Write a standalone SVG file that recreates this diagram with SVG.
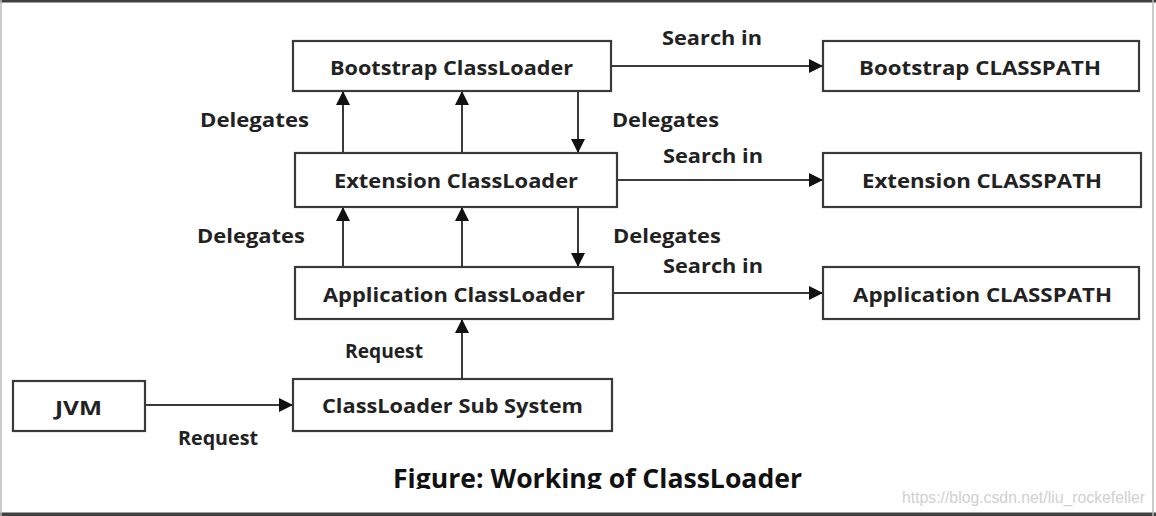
<svg xmlns="http://www.w3.org/2000/svg" width="1156" height="516" viewBox="0 0 1156 516">
<style>
.box{fill:#fff;stroke:#3a3a3a;stroke-width:2.2}
.t{font-family:"Open Sans","Noto Sans","Liberation Sans",sans-serif;font-weight:bold;font-size:19px;fill:#222}
.lbl{font-family:"Open Sans","Noto Sans","Liberation Sans",sans-serif;font-weight:bold;font-size:19px;fill:#222}
.ln{stroke:#3a3a3a;stroke-width:2;fill:none}
</style>
<defs>
<marker id="ah" viewBox="0 0 14 14" refX="14" refY="7" markerWidth="14" markerHeight="14" markerUnits="userSpaceOnUse" orient="auto">
<path d="M0,0 L14,7 L0,14 Z" fill="#111"/>
</marker>
<clipPath id="capclip"><rect x="0" y="440" width="1156" height="49"/></clipPath>
</defs>
<rect x="0" y="0" width="1156" height="516" fill="#fff"/>
<rect x="0" y="0" width="1156" height="2.5" fill="#404040"/>
<rect x="0" y="512.5" width="1156" height="3.5" fill="#404040"/>
<line x1="1" y1="0" x2="1" y2="516" stroke="#bbb" stroke-width="1.5"/>
<line x1="1153" y1="0" x2="1153" y2="516" stroke="#bbb" stroke-width="1.5"/>

<g id="connectors">
<line class="ln" x1="611" y1="66" x2="823" y2="66" marker-end="url(#ah)"/>
<line class="ln" x1="617" y1="180" x2="823" y2="180" marker-end="url(#ah)"/>
<line class="ln" x1="613" y1="293" x2="823" y2="293" marker-end="url(#ah)"/>
<line class="ln" x1="343" y1="153" x2="343" y2="91" marker-end="url(#ah)"/>
<line class="ln" x1="462" y1="153" x2="462" y2="91" marker-end="url(#ah)"/>
<line class="ln" x1="578" y1="91" x2="578" y2="153" marker-end="url(#ah)"/>
<line class="ln" x1="343" y1="267" x2="343" y2="207" marker-end="url(#ah)"/>
<line class="ln" x1="462" y1="267" x2="462" y2="207" marker-end="url(#ah)"/>
<line class="ln" x1="578" y1="207" x2="578" y2="267" marker-end="url(#ah)"/>
<line class="ln" x1="462" y1="379" x2="462" y2="319" marker-end="url(#ah)"/>
<line class="ln" x1="145" y1="405" x2="293" y2="405" marker-end="url(#ah)"/>
<text class="lbl" x="662" y="45" textLength="100" lengthAdjust="spacingAndGlyphs">Search in</text>
<text class="lbl" x="663" y="163" textLength="100" lengthAdjust="spacingAndGlyphs">Search in</text>
<text class="lbl" x="663" y="273" textLength="100" lengthAdjust="spacingAndGlyphs">Search in</text>
<text class="lbl" x="200" y="127" textLength="109" lengthAdjust="spacingAndGlyphs">Delegates</text>
<text class="lbl" x="612" y="127" textLength="107" lengthAdjust="spacingAndGlyphs">Delegates</text>
<text class="lbl" x="197" y="243" textLength="108" lengthAdjust="spacingAndGlyphs">Delegates</text>
<text class="lbl" x="613" y="243" textLength="108" lengthAdjust="spacingAndGlyphs">Delegates</text>
<text class="lbl" x="345" y="358" textLength="78" lengthAdjust="spacingAndGlyphs">Request</text>
<text class="lbl" x="178" y="445" textLength="80" lengthAdjust="spacingAndGlyphs">Request</text>
</g>

<g id="bootstrap-loader">
<rect class="box" x="293" y="41" width="318" height="50"/>
<text class="t" x="330" y="75" textLength="243" lengthAdjust="spacingAndGlyphs">Bootstrap ClassLoader</text>
</g>
<g id="bootstrap-classpath">
<rect class="box" x="823" y="41" width="316" height="50"/>
<text class="t" x="859" y="75" textLength="242" lengthAdjust="spacingAndGlyphs">Bootstrap CLASSPATH</text>
</g>
<g id="extension-loader">
<rect class="box" x="295" y="153" width="322" height="54"/>
<text class="t" x="334" y="188" textLength="244" lengthAdjust="spacingAndGlyphs">Extension ClassLoader</text>
</g>
<g id="extension-classpath">
<rect class="box" x="823" y="153" width="318" height="54"/>
<text class="t" x="862" y="188" textLength="240" lengthAdjust="spacingAndGlyphs">Extension CLASSPATH</text>
</g>
<g id="application-loader">
<rect class="box" x="295" y="267" width="318" height="52"/>
<text class="t" x="323" y="302" textLength="262" lengthAdjust="spacingAndGlyphs">Application ClassLoader</text>
</g>
<g id="application-classpath">
<rect class="box" x="823" y="267" width="316" height="52"/>
<text class="t" x="853" y="302" textLength="259" lengthAdjust="spacingAndGlyphs">Application CLASSPATH</text>
</g>
<g id="jvm">
<rect class="box" x="13" y="381" width="132" height="50"/>
<text class="t" x="55" y="415" textLength="47" lengthAdjust="spacingAndGlyphs">JVM</text>
</g>
<g id="subsystem">
<rect class="box" x="293" y="379" width="319" height="52"/>
<text class="t" x="322" y="413" textLength="261" lengthAdjust="spacingAndGlyphs">ClassLoader Sub System</text>
</g>

<g id="caption" clip-path="url(#capclip)">
<text x="393" y="488" font-family="'Open Sans','Noto Sans','Liberation Sans',sans-serif" font-weight="bold" font-size="27" fill="#111" textLength="409" lengthAdjust="spacingAndGlyphs">Figure: Working of ClassLoader</text>
</g>
<text x="902" y="503" font-family="'Liberation Sans',Arial,sans-serif" font-size="16" fill="#d0d0d0" textLength="243" lengthAdjust="spacingAndGlyphs">https://blog.csdn.net/liu_rockefeller</text>
</svg>
